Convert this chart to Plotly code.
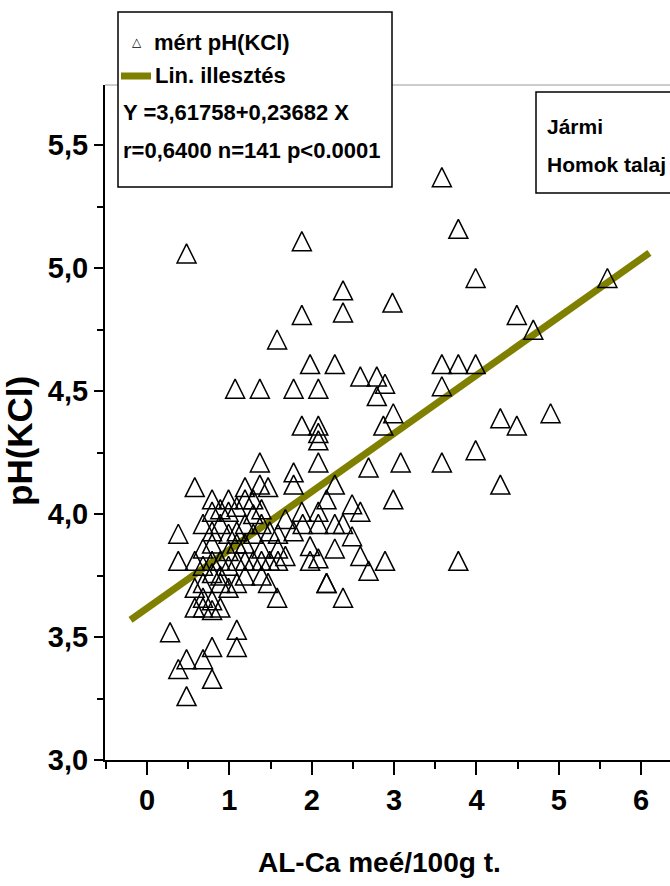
import plotly.graph_objects as go

# ---- data ----
al_ca = [0.48, 1.88, 3.58, 3.78, 3.99, 5.59, 2.38, 2.38, 1.88, 2.98,
         4.49, 4.69, 1.58, 1.98, 2.28, 3.58, 3.78, 3.99, 3.58, 1.37,
         1.78, 2.08, 1.07, 2.59, 2.79, 2.89, 2.79, 2.99, 2.87, 1.88,
         2.08, 2.08, 2.08, 4.29, 4.49, 4.90, 1.37, 1.78, 1.78, 2.08,
         2.69, 3.08, 3.58, 3.99, 4.29, 1.37, 1.47, 2.28, 2.99, 3.78,
         0.58, 0.79, 2.18, 2.49, 2.59, 1.19, 1.09, 0.89, 0.99, 0.79,
         1.39, 1.29, 0.68, 0.79, 1.09, 1.29, 1.49, 1.68, 1.78, 0.38,
         2.08, 2.38, 2.08, 1.98, 2.28, 2.59, 2.89, 2.69, 1.98, 0.38,
         0.58, 0.79, 0.89, 1.09, 1.19, 1.29, 1.39, 1.49, 1.59, 0.99,
         0.99, 0.68, 0.79, 0.89, 1.19, 1.09, 0.58, 0.89, 1.47, 1.58,
         2.18, 2.18, 2.38, 0.68, 0.79, 0.58, 0.68, 0.79, 0.28, 1.09,
         1.09, 0.79, 0.48, 0.68, 0.38, 0.79, 0.48, 0.99, 1.29, 0.89,
         1.19, 1.39, 0.99, 1.59, 0.68, 1.39, 1.19, 0.79, 1.59, 1.09,
         1.68, 2.08, 0.68, 0.99, 1.39, 2.28, 1.88, 2.49, 1.89, 0.89,
         1.19]
ph_kcl = [5.06, 5.11, 5.37, 5.16, 4.96, 4.96, 4.91, 4.82, 4.81, 4.86,
          4.81, 4.75, 4.71, 4.61, 4.61, 4.61, 4.61, 4.61, 4.52, 4.51,
          4.51, 4.51, 4.51, 4.56, 4.56, 4.53, 4.48, 4.41, 4.36, 4.36,
          4.36, 4.33, 4.30, 4.39, 4.36, 4.41, 4.21, 4.17, 4.12, 4.21,
          4.19, 4.21, 4.21, 4.26, 4.12, 4.12, 4.11, 4.12, 4.06, 3.81,
          4.11, 4.06, 4.06, 4.04, 4.01, 4.06, 4.03, 4.02, 4.01, 4.01,
          4.02, 4.00, 3.96, 3.93, 3.93, 3.92, 3.93, 3.98, 3.93, 3.92,
          3.96, 3.96, 4.01, 3.87, 3.86, 3.83, 3.81, 3.77, 3.81, 3.81,
          3.81, 3.81, 3.81, 3.81, 3.81, 3.81, 3.81, 3.81, 3.81, 3.85,
          3.79, 3.79, 3.76, 3.75, 3.75, 3.72, 3.70, 3.72, 3.72, 3.66,
          3.72, 3.72, 3.66, 3.66, 3.65, 3.62, 3.62, 3.61, 3.52, 3.53,
          3.46, 3.46, 3.41, 3.41, 3.37, 3.33, 3.26, 4.06, 4.06, 3.96,
          3.96, 3.96, 3.92, 3.92, 3.86, 3.86, 3.88, 3.88, 3.86, 3.88,
          3.83, 3.82, 3.72, 3.70, 3.75, 3.96, 4.01, 3.91, 3.96, 3.62,
          4.11]

fit_intercept = 3.61758
fit_slope = 0.23682
fit_x = [-0.2, 6.1]

x_ticks = [0, 1, 2, 3, 4, 5, 6]
y_ticks = [3.0, 3.5, 4.0, 4.5, 5.0, 5.5]
y_ticktext = ["3,0", "3,5", "4,0", "4,5", "5,0", "5,5"]

legend_lines = ["mért pH(KCl)", "Lin. illesztés",
                "Y =3,61758+0,23682 X", "r=0,6400 n=141 p<0.0001"]
site_lines = ["Jármi", "Homok talaj"]
x_title = "AL-Ca meé/100g t."
y_title = "pH(KCl)"

# ---- figure ----
FONT = "Liberation Sans, Arial, sans-serif"
OLIVE = "#7f7f00"

x_range = [-0.51, 6.35]
y_range = [3.0, 5.745]
plot_h = 675
msize = 19
dy = (msize / 2) / (plot_h / (y_range[1] - y_range[0]))

fit_y = [fit_intercept + fit_slope * v for v in fit_x]

fig = go.Figure()
fig.add_trace(go.Scatter(
    x=al_ca, y=ph_kcl, mode="markers", yaxis="y2",
    marker=dict(symbol="arrow-up", size=msize, color="rgba(0,0,0,0)",
                line=dict(color="black", width=1.5)),
    showlegend=False, hoverinfo="x+y"))
fig.add_trace(go.Scatter(
    x=fit_x, y=fit_y, mode="lines",
    line=dict(color=OLIVE, width=7), showlegend=False))

tickfont = dict(family=FONT, size=29, color="black", weight="bold")
fig.update_layout(
    width=670, height=886,
    margin=dict(l=105, r=0, t=85, b=126),
    paper_bgcolor="white", plot_bgcolor="white",
    showlegend=False,
    xaxis=dict(range=x_range, tickvals=x_ticks, ticks="outside", ticklen=13,
               tickwidth=2, tickcolor="black", showline=True, linecolor="black",
               linewidth=2, showgrid=False, zeroline=False, tickfont=tickfont,
               minor=dict(dtick=0.5, tick0=0, ticks="outside", ticklen=7,
                          tickwidth=2, tickcolor="black", showgrid=False)),
    yaxis=dict(range=y_range, tickvals=y_ticks, ticktext=y_ticktext,
               ticks="outside", ticklen=9, tickwidth=2, tickcolor="black",
               showline=True, linecolor="black", linewidth=2, showgrid=False,
               zeroline=False, tickfont=tickfont,
               minor=dict(dtick=0.25, tick0=3.0, ticks="outside", ticklen=6,
                          tickwidth=2, tickcolor="black", showgrid=False)),
    yaxis2=dict(range=[y_range[0] - dy, y_range[1] - dy], overlaying="y",
                visible=False),
)

def px_x(p):
    return (p - 105) / 565

def px_y(p):
    return (760 - p) / 675

shapes = [
    dict(type="line", xref="paper", yref="paper", x0=0, x1=1, y0=1, y1=1,
         line=dict(color="#9a9a9a", width=1)),
    dict(type="line", xref="paper", yref="paper", x0=px_x(95), x1=0,
         y0=0, y1=0, line=dict(color="black", width=2)),
    dict(type="rect", xref="paper", yref="paper", x0=px_x(118), x1=px_x(392),
         y0=px_y(187), y1=px_y(12), fillcolor="white",
         line=dict(color="black", width=1.5)),
    dict(type="line", xref="paper", yref="paper", x0=px_x(121), x1=px_x(151),
         y0=px_y(76), y1=px_y(76), line=dict(color=OLIVE, width=7)),
    dict(type="rect", xref="paper", yref="paper", x0=px_x(536), x1=px_x(690),
         y0=px_y(193), y1=px_y(92), fillcolor="white",
         line=dict(color="black", width=1.5)),
]
fig.update_layout(shapes=shapes)

lfont = dict(family=FONT, size=22, color="black", weight="bold")
sfont = dict(family=FONT, size=21, color="black", weight="bold")
ann = [
    dict(text="△", x=px_x(137), y=px_y(42), xanchor="center", yanchor="middle",
         font=dict(family="DejaVu Sans", size=12, color="black")),
    dict(text=legend_lines[0], x=px_x(152), y=px_y(42)),
    dict(text=legend_lines[1], x=px_x(153), y=px_y(76)),
    dict(text=legend_lines[2], x=px_x(121), y=px_y(112)),
    dict(text=legend_lines[3], x=px_x(121), y=px_y(150)),
    dict(text=site_lines[0], x=px_x(545), y=px_y(126), font=sfont),
    dict(text=site_lines[1], x=px_x(545), y=px_y(165), font=sfont),
    dict(text=x_title, x=px_x(379), y=px_y(862), xanchor="center",
         font=dict(family=FONT, size=28, color="black", weight="bold")),
    dict(text=y_title, x=px_x(20), y=px_y(441), xanchor="center",
         textangle=-90,
         font=dict(family=FONT, size=35, color="black", weight="bold")),
]
for a in ann:
    a.setdefault("xanchor", "left")
    a.setdefault("yanchor", "middle")
    a.setdefault("font", lfont)
    a.update(xref="paper", yref="paper", showarrow=False)
fig.update_layout(annotations=ann)

fig.write_html("out.html",
               config={"displayModeBar": False},
               post_script="document.body.style.margin='0';"
                           "document.body.style.padding='0';")
